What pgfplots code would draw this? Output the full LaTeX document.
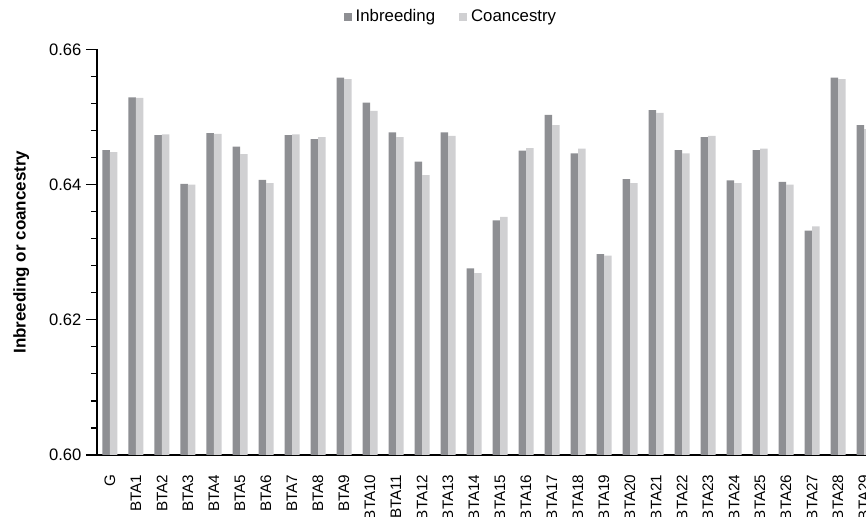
\documentclass[border=0pt]{standalone}
\usepackage{pgfplots}
\pgfplotsset{compat=1.18}
\usepackage{fontspec}
\setmainfont{Liberation Sans}
\definecolor{inb}{RGB}{142,143,147}
\definecolor{coa}{RGB}{208,208,210}
\begin{document}
\begin{tikzpicture}
\begin{axis}[name=ax,
  scale only axis, width=390pt, height=202.85pt,
  ybar=0pt, bar width=3.75pt,
  xmin=-0.5, xmax=29.5, ymin=0.60, ymax=0.66,
  axis lines*=left,
  axis line style={black, line width=0.9pt},
  xtick={0,...,29},
  xticklabels={G,BTA1,BTA2,BTA3,BTA4,BTA5,BTA6,BTA7,BTA8,BTA9,BTA10,BTA11,BTA12,BTA13,BTA14,BTA15,BTA16,BTA17,BTA18,BTA19,BTA20,BTA21,BTA22,BTA23,BTA24,BTA25,BTA26,BTA27,BTA28,BTA29},
  x tick label style={rotate=90, anchor=east, font=\fontsize{7.6}{9}\selectfont},
  x tick style={draw=none},
  xticklabel shift=0.8pt,
  ytick={0.60,0.62,0.64,0.66},
  minor ytick={0.604,0.608,0.612,0.616,0.624,0.628,0.632,0.636,0.644,0.648,0.652,0.656},
  tick align=outside,
  major tick length=5.5pt, minor tick length=3pt,
  y tick style={black, line width=0.6pt},
  minor y tick style={black, line width=0.6pt},
  y tick label style={font=\fontsize{8.3}{9}\selectfont},
  yticklabel shift=-1.2pt,
  yticklabel style={/pgf/number format/.cd, fixed, fixed zerofill, precision=2, assume math mode=true},
  ylabel={\bfseries Inbreeding or coancestry},
  every axis y label/.style={at={(axis description cs:-0.097,0.5)}, rotate=90, anchor=center, font=\fontsize{8.5}{9}\selectfont},
  legend style={at={(axis description cs:0.455,1.08)}, anchor=center, draw=none, legend columns=2, font=\fontsize{8.4}{9}\selectfont, inner sep=0pt,
    /tikz/every even column/.append style={column sep=10pt},
    nodes={inner xsep=2pt}},
  legend image code/.code={\fill[#1] (0pt,-2pt) rectangle (4pt,2pt);},
  legend cell align=left,
]
\addplot[fill=inb, draw=none] coordinates {
(0,0.6451) (1,0.6529) (2,0.6473) (3,0.6401) (4,0.6476) (5,0.6456) (6,0.6407) (7,0.6473) (8,0.6467) (9,0.6558)
(10,0.6521) (11,0.6477) (12,0.6434) (13,0.6477) (14,0.6276) (15,0.6347) (16,0.6450) (17,0.6503) (18,0.6446) (19,0.6297)
(20,0.6408) (21,0.6510) (22,0.6451) (23,0.6470) (24,0.6406) (25,0.6451) (26,0.6404) (27,0.6332) (28,0.6558) (29,0.6488)};
\addplot[fill=coa, draw=none] coordinates {
(0,0.6448) (1,0.6528) (2,0.6474) (3,0.6400) (4,0.6475) (5,0.6445) (6,0.6402) (7,0.6474) (8,0.6470) (9,0.6556)
(10,0.6509) (11,0.6470) (12,0.6414) (13,0.6472) (14,0.6269) (15,0.6352) (16,0.6454) (17,0.6488) (18,0.6453) (19,0.6295)
(20,0.6402) (21,0.6506) (22,0.6446) (23,0.6472) (24,0.6402) (25,0.6453) (26,0.6400) (27,0.6338) (28,0.6556) (29,0.6482)};
\legend{Inbreeding, Coancestry}
\end{axis}
\pgfresetboundingbox
\path (ax.south west) ++(-48.5pt,-31pt) rectangle ++(433pt,258.5pt);
\end{tikzpicture}
\end{document}
